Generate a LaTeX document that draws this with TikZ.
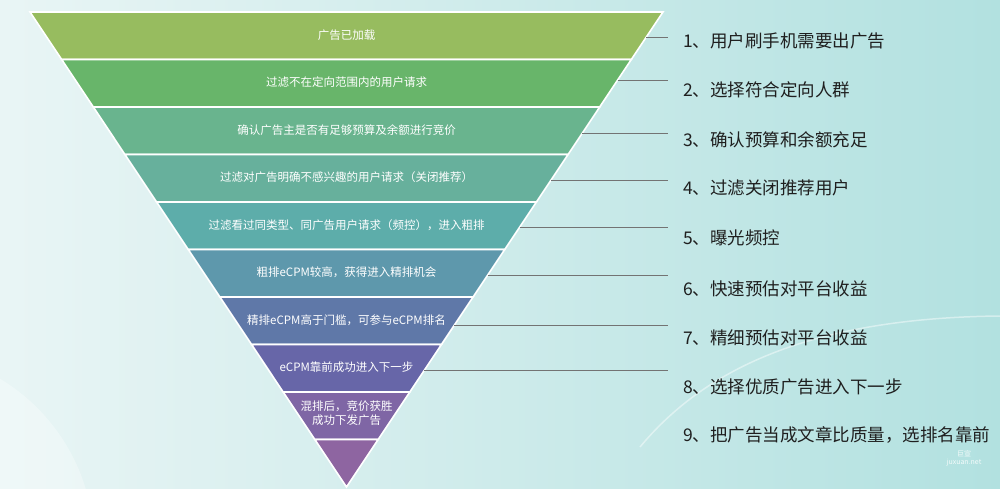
\documentclass[tikz,border=0pt]{standalone}
\usepackage{fontspec}
\setmainfont{Noto Sans CJK SC}
\definecolor{bgL}{HTML}{E9F5F5}
\definecolor{bgR}{HTML}{B2E1E0}
\definecolor{b1}{HTML}{97BC5F}
\definecolor{b2}{HTML}{68B56A}
\definecolor{b3}{HTML}{69B48E}
\definecolor{b4}{HTML}{67B09C}
\definecolor{b5}{HTML}{5DADAA}
\definecolor{b6}{HTML}{5E98AC}
\definecolor{b7}{HTML}{5F78A8}
\definecolor{b8}{HTML}{6766A8}
\definecolor{b9}{HTML}{7F66A5}
\definecolor{b10}{HTML}{8E65A1}
\begin{document}
\begin{tikzpicture}[x=1pt,y=-1pt,
  band/.style={draw=white, line width=1.6pt, line join=miter},
  bandtext/.style={text=white, font=\fontsize{11.5}{15}\selectfont, inner sep=0pt, anchor=base, align=center},
  steptext/.style={text=black!88, font=\fontsize{17.5}{20}\selectfont, anchor=base west, inner sep=0pt},
  lead/.style={draw=black!55, line width=0.9pt},
  wm/.style={text=white, inner sep=0pt, opacity=0.85}]
\useasboundingbox (0,0) rectangle (1000,489);
\shade[left color=bgL, right color=bgR] (0,0) rectangle (1000,489);
% faint decorative arcs
\fill[white, opacity=0.3] (-100,545) circle (194);
\draw[white, opacity=0.45, line width=1.5pt] (640,447) .. controls (700,375) and (800,318) .. (1000,316);
% funnel bands
\foreach \i/\c in {0/b1,1/b2,2/b3,3/b4,4/b5,5/b6,6/b7,7/b8,8/b9,9/b10} {
  \pgfmathsetmacro\ya{12+47.5*\i}
  \pgfmathsetmacro\yb{12+47.5*(\i+1)}
  \pgfmathsetmacro\ha{316.5*(1-\i/10)}
  \pgfmathsetmacro\hb{316.5*(1-(\i+1)/10)}
  \filldraw[band, fill=\c] (346.5-\ha,\ya) -- (346.5+\ha,\ya) -- (346.5+\hb,\yb) -- (346.5-\hb,\yb) -- cycle;
}
% band texts
\node[bandtext] (t1) at (346.5,39.2) {广告已加载};
\node[bandtext] (t2) at (346.5,86.7) {过滤不在定向范围内的用户请求};
\node[bandtext] (t3) at (346.5,134.2) {确认广告主是否有足够预算及余额进行竞价};
\node[bandtext] (t4) at (346.5,181.7) {过滤对广告明确不感兴趣的用户请求（关闭推荐）};
\node[bandtext] (t5) at (346.5,229.2) {过滤看过同类型、同广告用户请求（频控），进入粗排};
\node[bandtext] (t6) at (346.5,276.7) {粗排eCPM较高，获得进入精排机会};
\node[bandtext] (t7) at (346.5,324.2) {精排eCPM高于门槛，可参与eCPM排名};
\node[bandtext] (t8) at (346.5,371.7) {eCPM靠前成功进入下一步};
\node[bandtext] (t9a) at (346.5,410.6) {混排后，竞价获胜};
\node[bandtext] (t9b) at (346.5,424.6) {成功下发广告};
% step labels
\node[steptext] (s1) at (683,47.6) {1、用户刷手机需要出广告};
\node[steptext] (s2) at (683,96.6) {2、选择符合定向人群};
\node[steptext] (s3) at (683,146.6) {3、确认预算和余额充足};
\node[steptext] (s4) at (683,194.6) {4、过滤关闭推荐用户};
\node[steptext] (s5) at (683,244.6) {5、曝光频控};
\node[steptext] (s6) at (683,295.6) {6、快速预估对平台收益};
\node[steptext] (s7) at (683,344.6) {7、精细预估对平台收益};
\node[steptext] (s8) at (683,393.6) {8、选择优质广告进入下一步};
\node[steptext] (s9) at (683,441.6) {9、把广告当成文章比质量，选排名靠前};
% leader lines
\foreach \n/\y in {1/37,2/80,3/133,4/180,5/227,6/275,7/325,8/370} {
  \pgfmathsetmacro\ex{346.5+0.666316*(487-\y)}
  \coordinate (e\n) at (\ex,\y);
  \coordinate (c\n) at (668,\y);
  \draw[lead] (e\n) -- (c\n);
}
% watermark
\node[wm, font=\fontsize{7}{8}\selectfont] (w1) at (964,454) {巨宣};
\node[wm, font=\fontsize{7}{8}\selectfont] (w2) at (964,463) {juxuan.net};
\end{tikzpicture}
\end{document}
